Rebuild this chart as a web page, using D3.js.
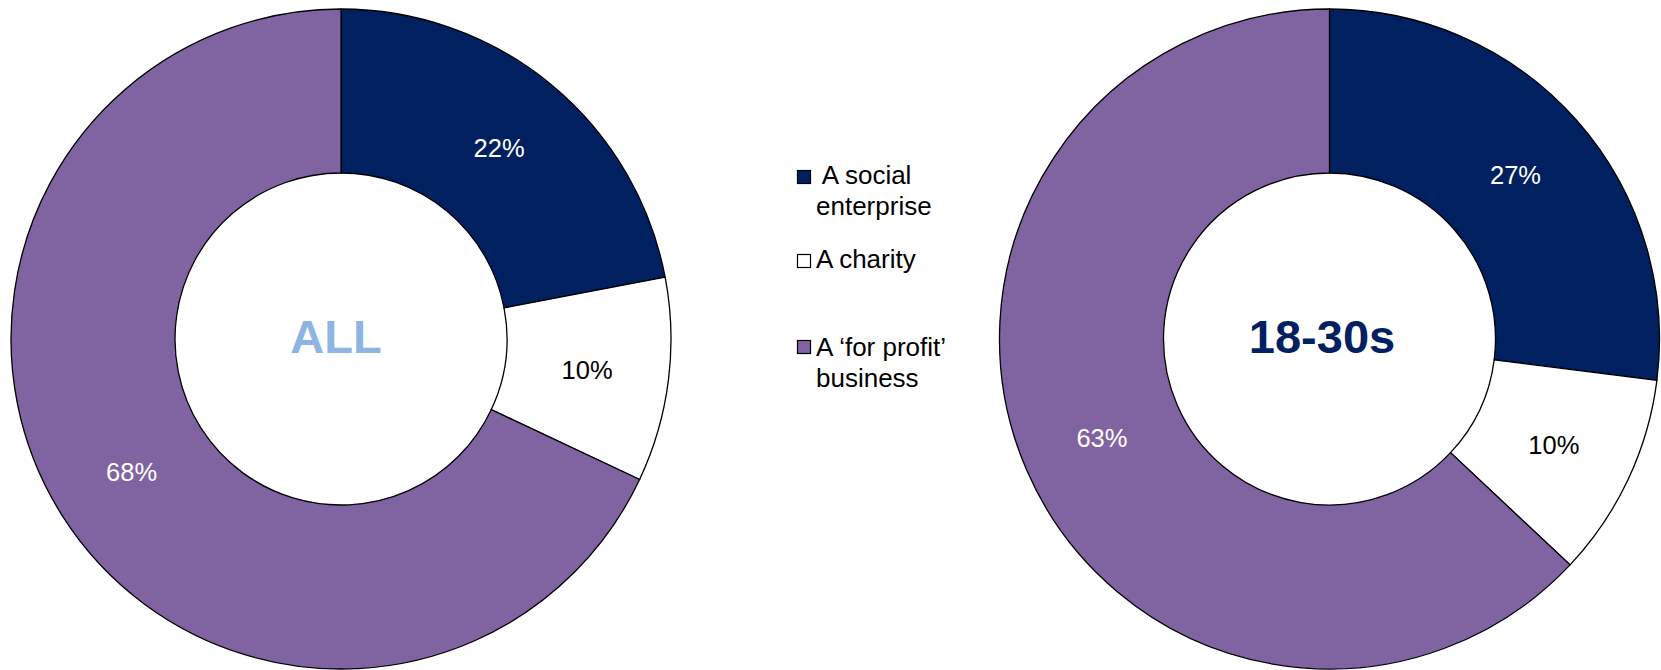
<!DOCTYPE html>
<html>
<head>
<meta charset="utf-8">
<script src="https://cdn.jsdelivr.net/npm/d3@7"></script>
<style>
  html, body { margin: 0; padding: 0; background: #ffffff; }
  svg { display: block; font-family: "Liberation Sans", Arial, sans-serif; }
</style>
</head>
<body>
<svg id="chart" width="1661" height="670"></svg>
<script>
// ---- data ----
const categories = ["A social enterprise", "A charity", "A \u2018for profit\u2019 business"];
const legendLines = [[" A social", "enterprise"], ["A charity"], ["A \u2018for profit\u2019", "business"]];
const valuesAll = [22, 10, 68];
const valuesYoung = [27, 10, 63];
const chartTitles = ["ALL", "18-30s"];
const sliceColors = ["#002060", "#ffffff", "#8064A2"];
const labelColors = ["#ffffff", "#000000", "#ffffff"];
const titleColors = ["#8DB4E2", "#002060"];

const svg = d3.select("#chart");
const outerR = 330, innerR = 166;
const centers = [[341, 339], [1329.5, 339]];
const titleDx = [-5, -7.5];

const pie = d3.pie().sort(null).value(d => d);
const arc = d3.arc().innerRadius(innerR).outerRadius(outerR);

[valuesAll, valuesYoung].forEach((vals, i) => {
  const g = svg.append("g").attr("transform", `translate(${centers[i][0]},${centers[i][1]})`);
  const arcs = pie(vals);
  g.selectAll("path").data(arcs).enter().append("path")
    .attr("d", arc)
    .attr("fill", (d, j) => sliceColors[j])
    .attr("stroke", "#000")
    .attr("stroke-width", 1.3)
    .attr("stroke-linejoin", "miter");
  g.selectAll("text.lbl").data(arcs).enter().append("text")
    .attr("class", "lbl")
    .attr("x", d => arc.centroid(d)[0])
    .attr("y", d => arc.centroid(d)[1])
    .attr("dy", "0.36em")
    .attr("text-anchor", "middle")
    .attr("font-size", 25.5)
    .attr("fill", (d, j) => labelColors[j])
    .text(d => d.data + "%");
  g.append("text")
    .attr("x", titleDx[i])
    .attr("y", 14)
    .attr("text-anchor", "middle")
    .attr("font-size", 47)
    .attr("font-weight", "bold")
    .attr("fill", titleColors[i])
    .text(chartTitles[i]);
});

// ---- legend ----
const legY = [170, 254, 340];
const legBase = [184, 268, 356];
const leg = svg.append("g");
categories.forEach((c, i) => {
  leg.append("rect")
    .attr("x", 797.5).attr("y", legY[i] + 0.5)
    .attr("width", 13).attr("height", 13)
    .attr("fill", sliceColors[i])
    .attr("stroke", "#000").attr("stroke-width", 1.2);
  legendLines[i].forEach((line, k) => {
    leg.append("text")
      .attr("x", 816)
      .attr("y", legBase[i] + k * 31)
      .attr("font-size", 26)
      .attr("fill", "#000")
      .attr("xml:space", "preserve")
      .style("white-space", "pre")
      .text(line);
  });
});
</script>
</body>
</html>
